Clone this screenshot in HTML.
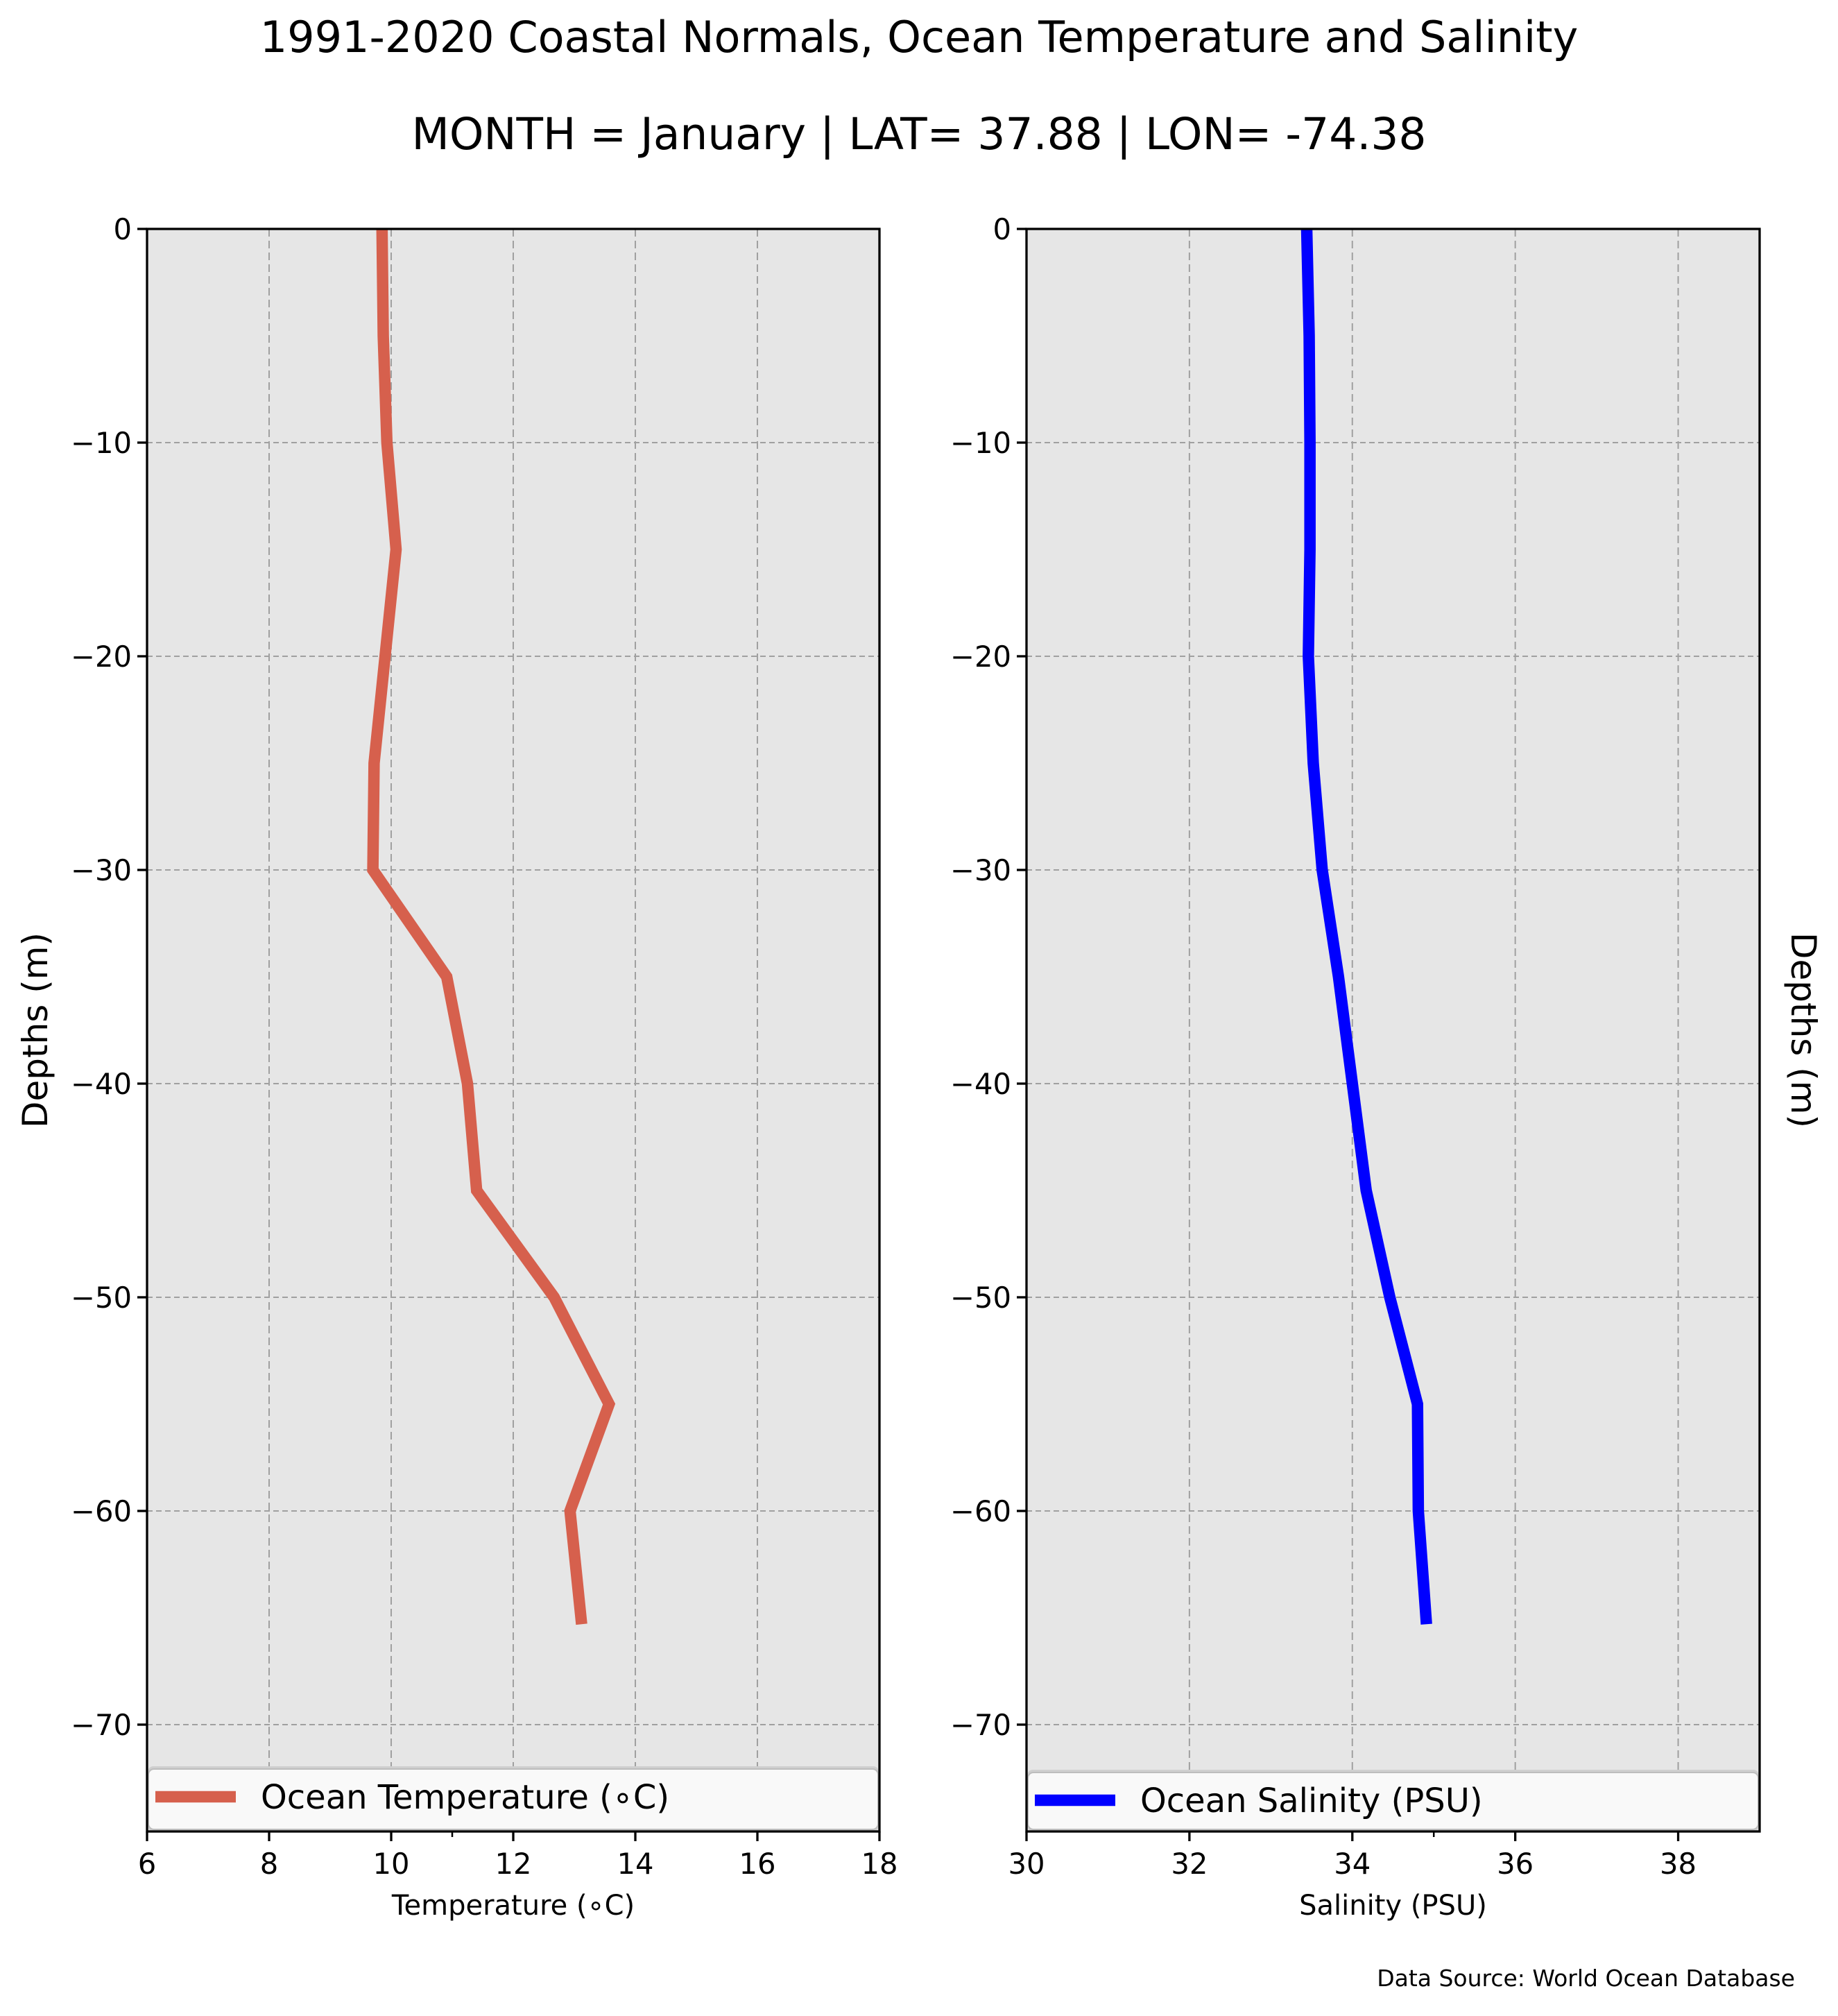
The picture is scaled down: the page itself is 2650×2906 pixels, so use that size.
<!DOCTYPE html>
<html><head><meta charset="utf-8"><style>
html,body{margin:0;padding:0;background:#fff}
svg text{font-family:"DejaVu Sans","Liberation Sans",sans-serif;fill:#000}
</style></head><body>
<svg id="fig" width="2650" height="2901" viewBox="0 0 2650 2901" xmlns="http://www.w3.org/2000/svg">
<rect width="2650" height="2901" fill="#fff"/>
<text x="1325" y="75" font-size="62" text-anchor="middle">1991-2020 Coastal Normals, Ocean Temperature and Salinity</text>
<text x="1325" y="215" font-size="63" text-anchor="middle">MONTH = January | LAT= 37.88 | LON= -74.38</text>
<text transform="translate(68,1485) rotate(-90)" font-size="50" text-anchor="middle">Depths (m)</text>
<text transform="translate(2583,1485) rotate(90)" font-size="50" text-anchor="middle">Depths (m)</text>
<text x="2588" y="2863" font-size="33" text-anchor="end">Data Source: World Ocean Database</text>
<g id="temp-panel"></g>
<g id="sal-panel"></g>
</svg>
<script>
const depths = [0,-5,-10,-15,-20,-25,-30,-35,-40,-45,-50,-55,-60,-65.3];
const temperature = [9.85,9.87,9.93,10.08,9.9,9.72,9.7,10.91,11.25,11.4,12.67,13.57,12.93,13.12];
const salinity = [33.44,33.47,33.48,33.48,33.46,33.52,33.63,33.83,34.0,34.17,34.46,34.8,34.81,34.91];
const tempTicks = [6,8,10,12,14,16,18];
const salTicks = [30,32,34,36,38];
const depthTicks = [0,-10,-20,-30,-40,-50,-60,-70];

const NS='http://www.w3.org/2000/svg';
function mk(parent,tag,attrs){const e=document.createElementNS(NS,tag);for(const k in attrs)e.setAttribute(k,attrs[k]);parent.appendChild(e);return e;}

function panel(g,opt){
  const L=opt.left,R=opt.right,T=330,B=2640;
  const xs=v=>L+(v-opt.xmin)/(opt.xmax-opt.xmin)*(R-L);
  const ys=v=>T+(0-v)/75*(B-T);
  const bg=mk(g,'rect',{x:L,y:T,width:R-L,height:B-T,fill:'#e6e6e6'});
  
  
  opt.ticks.forEach(t=>{
    if(t===opt.xmin||t===opt.xmax)return;
    const l=mk(g,'line',{x1:xs(t),x2:xs(t),y1:T,y2:B,stroke:'#a0a0a0','stroke-width':2,'stroke-dasharray':'11,6'});
    
    
  });
  depthTicks.forEach(t=>{
    if(t===0)return;
    const l=mk(g,'line',{x1:L,x2:R,y1:ys(t),y2:ys(t),stroke:'#a0a0a0','stroke-width':2,'stroke-dasharray':'8,5'});
    
    
  });
  const pts=depths.map((d,i)=>xs(opt.values[i])+','+ys(d)).join(' ');
  const pl=mk(g,'polyline',{points:pts,fill:'none',stroke:opt.color,'stroke-width':16.5,'stroke-linejoin':'miter','stroke-linecap':'butt'});
  
  
  // legend
  const lg=mk(g,'g',{});
  
  
  mk(lg,'rect',{x:L+1,y:opt.legTop-4,width:R-L-2,height:B-opt.legTop+4,rx:8,fill:'#cfcfcf'});
  mk(lg,'rect',{x:L+2,y:opt.legTop,width:R-L-4,height:B-opt.legTop-3,rx:8,fill:'#f9f9f9',stroke:'#bdbdbd','stroke-width':2});
  const ly=opt.legTop+40;
  const sw=mk(lg,'line',{x1:L+12,x2:L+128,y1:ly,y2:ly,stroke:opt.color,'stroke-width':16.5});
  
  
  const lt=mk(lg,'text',{x:L+164,y:ly+17,'font-size':48});
  lt.textContent=opt.legend;
  
  
  // frame
  const fr=mk(g,'rect',{x:L,y:T,width:R-L,height:B-T,fill:'none',stroke:'#000','stroke-width':3.3});
  
  
  // x ticks
  opt.ticks.forEach(t=>{
    mk(g,'line',{x1:xs(t),x2:xs(t),y1:B,y2:B+14,stroke:'#000','stroke-width':3.3});
    const tx=mk(g,'text',{x:xs(t),y:2701,'font-size':41.7,'text-anchor':'middle'});
    tx.textContent=t;
    
    
  });
  mk(g,'line',{x1:xs(opt.minor),x2:xs(opt.minor),y1:B,y2:B+8,stroke:'#000','stroke-width':2.5});
  depthTicks.forEach(t=>{
    mk(g,'line',{x1:L-14,x2:L,y1:ys(t),y2:ys(t),stroke:'#000','stroke-width':3.3});
    const tx=mk(g,'text',{x:L-22,y:ys(t)+15,'font-size':41.7,'text-anchor':'end'});
    tx.textContent=t===0?'0':'\u2212'+Math.abs(t);
    
    
  });
  const xl=mk(g,'text',{x:(L+R)/2,y:2760,'font-size':40,'text-anchor':'middle'});
  xl.textContent=opt.xlabel;
  
  
}
panel(document.getElementById('temp-panel'),{key:'temperature',left:212,right:1268,xmin:6,xmax:18,ticks:tempTicks,minor:11,values:temperature,color:'#d6604d',legTop:2550,legend:'Ocean Temperature (\u2218C)',xlabel:'Temperature (\u2218C)'});
panel(document.getElementById('sal-panel'),{key:'salinity',left:1480,right:2537,xmin:30,xmax:39,ticks:salTicks,minor:35,values:salinity,color:'#0000ff',legTop:2555,legend:'Ocean Salinity (PSU)',xlabel:'Salinity (PSU)'});
</script>
</body></html>
